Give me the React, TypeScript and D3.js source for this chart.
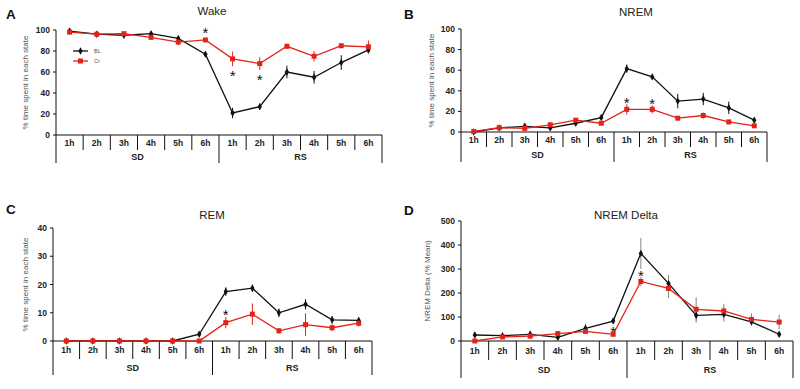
import * as d3 from 'd3'

const hours = ['1h', '2h', '3h', '4h', '5h', '6h', '1h', '2h', '3h', '4h', '5h', '6h']
const groups = ['SD', 'RS']

// Wake
const wakeBL = [99, 96, 95, 96.5, 92, 77, 21, 27, 60, 55, 69, 81]
const wakeBLErr = [1, 1, 1.5, 1, 1.5, 1.5, 5, 3, 6, 6, 7, 3]
const wakeCr = [98, 96, 96.5, 93, 88.5, 90.5, 72.5, 68, 84.5, 75, 85, 84]
const wakeCrErr = [1.5, 1, 1.5, 1.5, 3, 1.5, 7, 6, 2, 5, 2, 6]
const wakeStars = [{ i: 5, v: 100 }, { i: 6, v: 59 }, { i: 7, v: 55 }]

// NREM
const nremBL = [0, 4, 5.5, 4, 8.5, 14, 61.5, 53.5, 30, 32, 23.5, 11.5]
const nremBLErr = [0.5, 1, 1.5, 1, 2, 1.5, 4, 2, 7, 6, 6, 2]
const nremCr = [0.5, 4.2, 3.5, 7, 11.5, 8.5, 22, 22, 13.4, 16, 9.8, 6]
const nremCrErr = [0.5, 1, 1, 1, 2, 1.5, 5, 4, 1.5, 3, 2, 1.5]
const nremStars = [{ i: 6, v: 31 }, { i: 7, v: 30 }]

// REM
const remBL = [0, 0, 0, 0, 0, 2.4, 17.5, 18.7, 10, 13, 7.5, 7.3]
const remBLErr = [0, 0, 0, 0, 0, 0.6, 1.5, 1.3, 1.5, 1.8, 1.3, 1]
const remCr = [0, 0, 0, 0, 0, 0, 6.5, 9.5, 3.6, 5.8, 4.7, 6.3]
const remCrErr = [0, 0, 0, 0, 0, 0, 2, 3.8, 1, 4, 1.2, 1.2]
const remStars = [{ i: 6, v: 10.3 }]

// NREM Delta
const deltaBL = [25, 22, 28, 15, 53, 83, 365, 240, 107, 111, 80, 28]
const deltaBLErr = [3, 3, 15, 5, 20, 5, 65, 35, 30, 30, 15, 5]
const deltaCr = [0, 17, 20, 31, 40, 28, 248, 219, 132, 125, 90, 79]
const deltaCrErr = [2, 5, 8, 5, 8, 5, 20, 40, 50, 30, 25, 30]
const deltaStars = [{ i: 5, v: 52 }, { i: 6, v: 283 }]

const RED = '#e2231a'
const FONT = 'Liberation Sans, Arial, sans-serif'

type Star = { i: number; v: number }

type PanelProps = {
  letter: string
  title: string
  titleX: number
  titleY: number
  letterX: number
  letterY: number
  left: number
  right: number
  top: number
  bottom: number
  hourBottom: number
  groupBottom: number
  yMax: number
  yStep: number
  yLabel: string
  yLabelX: number
  bl: number[]
  blErr: number[]
  cr: number[]
  crErr: number[]
  stars: Star[]
  errColor?: string
  legend?: boolean
}

const Panel = (p: PanelProps) => {
  const idx = hours.map((_, i) => String(i))
  const x = d3.scaleBand<string>().domain(idx).range([p.left, p.right])
  const y = d3.scaleLinear().domain([0, p.yMax]).range([p.bottom, p.top])
  const cx = (i: number) => (x(String(i)) ?? 0) + x.bandwidth() / 2
  const line = d3
    .line<number>()
    .x((_, i) => cx(i))
    .y((d) => y(d))
  const ticks = d3.range(0, p.yMax + 0.001, p.yStep)
  const bw = x.bandwidth()
  const diamond = d3.symbol(d3.symbolDiamond, 16)()
  const mid = (p.left + p.right) / 2

  return (
    <g fontFamily={FONT}>
      <text x={p.letterX} y={p.letterY} fontSize={13.5} fontWeight={700} fill="#111">
        {p.letter}
      </text>
      <text x={p.titleX} y={p.titleY} fontSize={11.5} textAnchor="middle" fill="#222">
        {p.title}
      </text>
      <text
        transform={`translate(${p.yLabelX},${(p.top + p.bottom) / 2}) rotate(-90)`}
        fontSize={8}
        textAnchor="middle"
        fill="#555"
      >
        {p.yLabel}
      </text>
      {/* y axis */}
      <line x1={p.left} x2={p.left} y1={p.top} y2={p.bottom} stroke="#111" strokeWidth={1} />
      {ticks.map((t) => (
        <g key={t}>
          <line x1={p.left - 3} x2={p.left} y1={y(t)} y2={y(t)} stroke="#111" />
          <text
            x={p.left - 6}
            y={y(t) + 3}
            fontSize={8.5}
            fontWeight={700}
            textAnchor="end"
            fill="#222"
          >
            {t}
          </text>
        </g>
      ))}
      {/* category table */}
      <line x1={p.left} x2={p.right} y1={p.bottom} y2={p.bottom} stroke="#111" strokeWidth={1.2} />
      {hours.map((h, i) => (
        <g key={i}>
          <line
            x1={(x(String(i)) ?? 0) + bw}
            x2={(x(String(i)) ?? 0) + bw}
            y1={p.bottom}
            y2={i === 5 || i === 11 ? p.groupBottom : p.hourBottom}
            stroke="#111"
          />
          <text
            x={cx(i)}
            y={(p.bottom + p.hourBottom) / 2 + 3}
            fontSize={8.5}
            fontWeight={700}
            textAnchor="middle"
            fill="#222"
          >
            {h}
          </text>
        </g>
      ))}
      <line x1={p.left} x2={p.left} y1={p.bottom} y2={p.groupBottom} stroke="#111" />
      {groups.map((g, gi) => (
        <text
          key={g}
          x={gi === 0 ? (p.left + mid) / 2 : (mid + p.right) / 2}
          y={(p.hourBottom + p.groupBottom) / 2 + 3.5}
          fontSize={9}
          fontWeight={700}
          textAnchor="middle"
          fill="#222"
        >
          {g}
        </text>
      ))}
      {/* error bars */}
      {p.bl.map((v, i) => (
        <line
          key={'be' + i}
          x1={cx(i)}
          x2={cx(i)}
          y1={y(v - p.blErr[i])}
          y2={y(v + p.blErr[i])}
          stroke={p.errColor ?? '#111'}
          strokeWidth={1}
        />
      ))}
      {p.cr.map((v, i) => (
        <line
          key={'ce' + i}
          x1={cx(i)}
          x2={cx(i)}
          y1={y(Math.max(0, v - p.crErr[i]))}
          y2={y(v + p.crErr[i])}
          stroke={p.errColor ?? RED}
          strokeWidth={1}
        />
      ))}
      <path d={line(p.bl) ?? ''} fill="none" stroke="#111" strokeWidth={1.3} />
      <path d={line(p.cr) ?? ''} fill="none" stroke={RED} strokeWidth={1.3} />
      {p.bl.map((v, i) => (
        <path key={'bm' + i} d={diamond ?? ''} transform={`translate(${cx(i)},${y(v)})`} fill="#111" />
      ))}
      {p.cr.map((v, i) => (
        <rect key={'cm' + i} x={cx(i) - 2.5} y={y(v) - 2.5} width={5} height={5} fill={RED} />
      ))}
      {p.stars.map((s, k) => (
        <text
          key={'s' + k}
          x={cx(s.i)}
          y={y(s.v) + 8}
          fontSize={15}
          textAnchor="middle"
          fill="#111"
        >
          *
        </text>
      ))}
      {p.legend && (
        <g>
          <line x1={p.left + 17} x2={p.left + 32} y1={51} y2={51} stroke="#111" strokeWidth={1.3} />
          <path d={diamond ?? ''} transform={`translate(${p.left + 24.5},51)`} fill="#111" />
          <text x={p.left + 38} y={53} fontSize={5.5} fill="#555">
            BL
          </text>
          <line x1={p.left + 17} x2={p.left + 32} y1={61} y2={61} stroke={RED} strokeWidth={1.3} />
          <rect x={p.left + 22} y={58.5} width={5} height={5} fill={RED} />
          <text x={p.left + 38} y={63} fontSize={5.5} fill="#555">
            Cr
          </text>
        </g>
      )}
    </g>
  )
}

export default function App() {
  return (
    <svg
      width={800}
      height={389}
      style={{ position: 'absolute', left: 0, top: 0, background: '#fff' }}
    >
      <Panel
        letter="A"
        title="Wake"
        titleX={212}
        titleY={15}
        letterX={6}
        letterY={19}
        left={56}
        right={382}
        top={30}
        bottom={135}
        hourBottom={150}
        groupBottom={163}
        yMax={100}
        yStep={20}
        yLabel="% time spent in each state"
        yLabelX={28}
        bl={wakeBL}
        blErr={wakeBLErr}
        cr={wakeCr}
        crErr={wakeCrErr}
        stars={wakeStars}
        legend
      />
      <Panel
        letter="B"
        title="NREM"
        titleX={636}
        titleY={16}
        letterX={404}
        letterY={19}
        left={461}
        right={767}
        top={29}
        bottom={132}
        hourBottom={147}
        groupBottom={162}
        yMax={100}
        yStep={20}
        yLabel="% time spent in each state"
        yLabelX={434}
        bl={nremBL}
        blErr={nremBLErr}
        cr={nremCr}
        crErr={nremCrErr}
        stars={nremStars}
      />
      <Panel
        letter="C"
        title="REM"
        titleX={212}
        titleY={219}
        letterX={6}
        letterY={214}
        left={53}
        right={372}
        top={228}
        bottom={341}
        hourBottom={359}
        groupBottom={375}
        yMax={40}
        yStep={10}
        yLabel="% time spent in each state"
        yLabelX={28}
        bl={remBL}
        blErr={remBLErr}
        cr={remCr}
        crErr={remCrErr}
        stars={remStars}
      />
      <Panel
        letter="D"
        title="NREM Delta"
        titleX={626}
        titleY={219}
        letterX={404}
        letterY={215}
        left={461}
        right={793}
        top={221}
        bottom={341}
        hourBottom={360}
        groupBottom={378}
        yMax={500}
        yStep={100}
        yLabel="NREM Delta (% Mean)"
        yLabelX={430}
        bl={deltaBL}
        blErr={deltaBLErr}
        cr={deltaCr}
        crErr={deltaCrErr}
        stars={deltaStars}
        errColor="#888"
      />
    </svg>
  )
}
